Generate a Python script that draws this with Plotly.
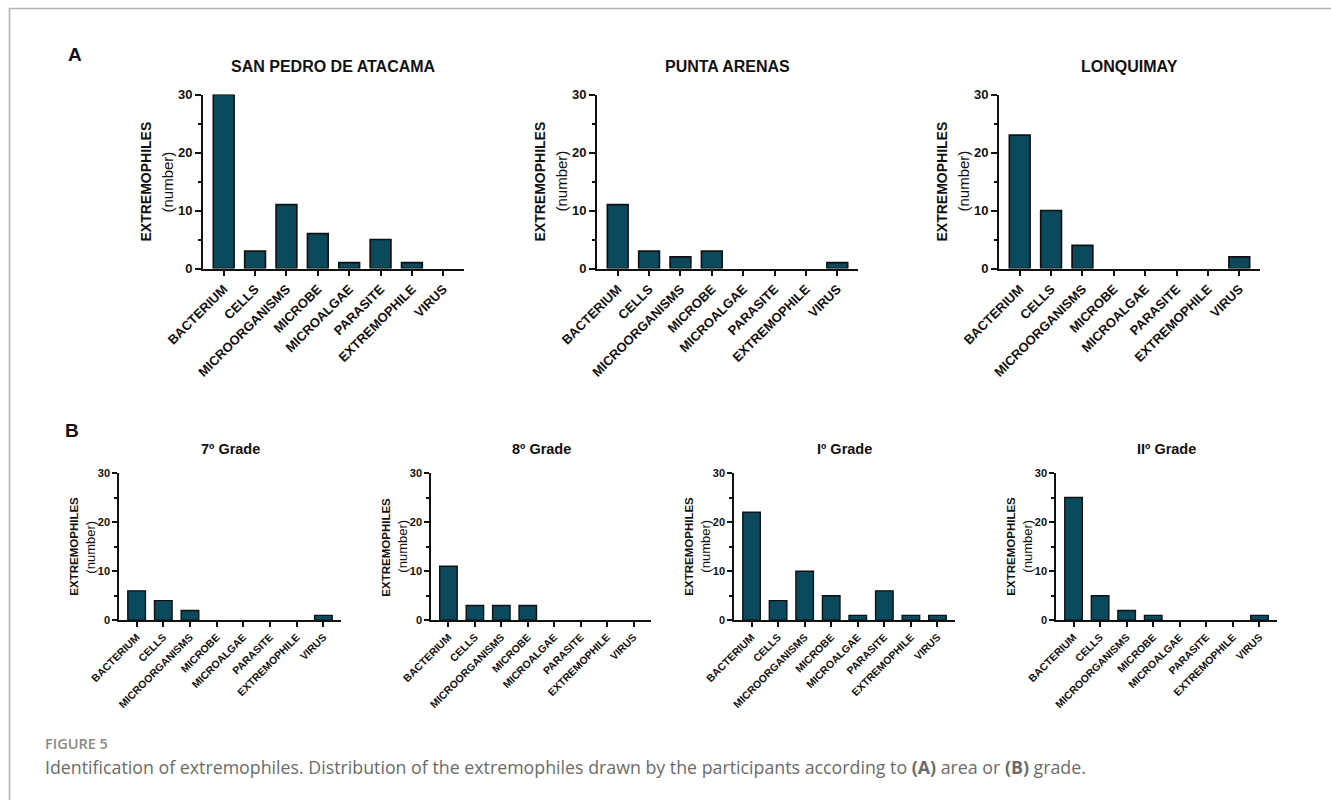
import plotly.graph_objects as go

# Categories shared by every panel
categories = ["BACTERIUM", "CELLS", "MICROORGANISMS", "MICROBE",
              "MICROALGAE", "PARASITE", "EXTREMOPHILE", "VIRUS"]

# Panel A: counts by area
area_names = ["SAN PEDRO DE ATACAMA", "PUNTA ARENAS", "LONQUIMAY"]
san_pedro = [30, 3, 11, 6, 1, 5, 1, 0]
punta_arenas = [11, 3, 2, 3, 0, 0, 0, 1]
lonquimay = [23, 10, 4, 0, 0, 0, 0, 2]
area_values = [san_pedro, punta_arenas, lonquimay]

# Panel B: counts by grade
grade_names = ["7º Grade", "8º Grade", "Iº Grade", "IIº Grade"]
grade_7 = [6, 4, 2, 0, 0, 0, 0, 1]
grade_8 = [11, 3, 3, 3, 0, 0, 0, 0]
grade_I = [22, 4, 10, 5, 1, 6, 1, 1]
grade_II = [25, 5, 2, 1, 0, 0, 0, 1]
grade_values = [grade_7, grade_8, grade_I, grade_II]

y_ticks = [0, 10, 20, 30]

W, H = 1331, 800
BAR = "#0b4a5d"
FONT = "Liberation Sans, Arial, Helvetica, sans-serif"


def px_x(p):
    return p / W


def px_y(p):
    return 1 - p / H


# pixel geometry of each panel: (left, right) and (top(=30), bottom(=0))
top_boxes = [(203, 464), (597, 858), (999, 1260)]
top_y = (94.5, 268.5)
bot_boxes = [(119, 341), (431, 651), (734, 955), (1056, 1277)]
bot_y = (473, 620.3)

panels = []
for name, vals, box in zip(area_names, area_values, top_boxes):
    panels.append(dict(name=name, vals=vals, box=box, ybox=top_y, big=True))
for name, vals, box in zip(grade_names, grade_values, bot_boxes):
    panels.append(dict(name=name, vals=vals, box=box, ybox=bot_y, big=False))

fig = go.Figure()
layout = dict(
    template="none",
    width=W, height=H, autosize=False,
    margin=dict(l=0, r=0, t=0, b=0, pad=0),
    paper_bgcolor="white", plot_bgcolor="white",
    showlegend=False,
    font=dict(family=FONT, color="#111"),
)
annotations = []

for i, p in enumerate(panels, start=1):
    sfx = "" if i == 1 else str(i)
    big = p["big"]
    edge = 1.7 if big else 1.4
    # empty categories get no outline so nothing is drawn above the axis
    edge_widths = [edge if v > 0 else 0 for v in p["vals"]]
    fig.add_trace(go.Bar(
        x=categories, y=p["vals"],
        xaxis="x" + sfx, yaxis="y" + sfx,
        marker=dict(color=BAR, line=dict(color="#111", width=edge_widths)),
        width=0.66,
    ))
    l, r = p["box"]
    t, b = p["ybox"]
    lw = 1.9 if big else 1.5
    tick_font = dict(family=FONT, size=13 if big else 10.5, color="#111", weight="bold")
    layout["xaxis" + sfx] = dict(
        domain=[px_x(l), px_x(r)], anchor="y" + sfx, automargin=False,
        type="category", range=[-0.66, 7.66],
        showline=True, linecolor="#111", linewidth=lw,
        ticks="outside", ticklen=6 if big else 5, tickwidth=lw, tickcolor="#111",
        tickangle=-45, tickfont=tick_font, showgrid=False, zeroline=False,
        fixedrange=True,
    )
    layout["yaxis" + sfx] = dict(
        domain=[px_y(b), px_y(t)], anchor="x" + sfx, automargin=False,
        range=[0, 30], tickvals=y_ticks,
        showline=True, linecolor="#111", linewidth=lw,
        ticks="outside", ticklen=6 if big else 5, tickwidth=lw, tickcolor="#111",
        minor=dict(dtick=5, ticks="outside", ticklen=3.5 if big else 3,
                   tickwidth=lw, tickcolor="#111"),
        tickfont=dict(family=FONT, size=13 if big else 11, color="#111", weight="bold"),
        showgrid=False, zeroline=False, fixedrange=True,
    )
    # panel title
    annotations.append(dict(
        text="<b>%s</b>" % p["name"], xref="paper", yref="paper",
        x=px_x((l + r) / 2), y=px_y(66 if big else 449),
        xanchor="center", yanchor="middle", showarrow=False,
        font=dict(family=FONT, size=16 if big else 14.5, color="#111"),
    ))
    # two-line y-axis title
    yc = px_y((t + b) / 2)
    off1, off2 = (57, 36) if big else (45, 28)
    annotations.append(dict(
        text="<b>EXTREMOPHILES</b>", xref="paper", yref="paper",
        x=px_x(l - off1), y=yc, textangle=-90,
        xanchor="center", yanchor="middle", showarrow=False,
        font=dict(family=FONT, size=14 if big else 11.5, color="#111"),
    ))
    annotations.append(dict(
        text="(number)", xref="paper", yref="paper",
        x=px_x(l - off2), y=yc, textangle=-90,
        xanchor="center", yanchor="middle", showarrow=False,
        font=dict(family=FONT, size=15 if big else 13, color="#111"),
    ))

# panel letters
for letter, (lx, ly) in zip(["A", "B"], [(75, 54), (72, 431)]):
    annotations.append(dict(
        text="<b>%s</b>" % letter, xref="paper", yref="paper",
        x=px_x(lx), y=px_y(ly), xanchor="center", yanchor="middle",
        showarrow=False, font=dict(family=FONT, size=19, color="#111"),
    ))

# figure caption
annotations.append(dict(
    text="FIGURE 5", xref="paper", yref="paper",
    x=px_x(43), y=px_y(743), xanchor="left", yanchor="middle",
    showarrow=False,
    font=dict(family="Open Sans, sans-serif", size=14.5, color="#8a8a8a", weight=600),
))
annotations.append(dict(
    text=("Identification of extremophiles. Distribution of the extremophiles drawn by "
          "the participants according to <b>(A)</b> area or <b>(B)</b> grade."),
    xref="paper", yref="paper",
    x=px_x(43), y=px_y(767), xanchor="left", yanchor="middle",
    showarrow=False,
    font=dict(family="Open Sans, sans-serif", size=17.8, color="#6b6b6b"),
))

layout["annotations"] = annotations
# thin frame around the figure
layout["shapes"] = [
    dict(type="line", xref="paper", yref="paper",
         x0=px_x(9), x1=1, y0=px_y(8.5), y1=px_y(8.5),
         line=dict(color="#b3b3b3", width=1.6)),
    dict(type="line", xref="paper", yref="paper",
         x0=px_x(9.5), x1=px_x(9.5), y0=px_y(8), y1=0,
         line=dict(color="#b3b3b3", width=1.6)),
]

fig.update_layout(**layout)
fig.write_html("out.html")
